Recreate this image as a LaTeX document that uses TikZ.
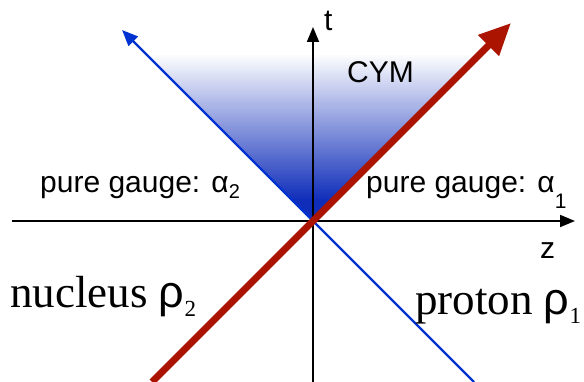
\documentclass[tikz,border=0pt]{standalone}
\usepackage{fontspec}
\setmainfont{Liberation Serif}
\setsansfont{Liberation Sans}
\usetikzlibrary{arrows.meta}
\definecolor{myred}{RGB}{170,20,0}
\definecolor{myblue}{RGB}{0,50,210}
\definecolor{shadeblue}{RGB}{15,45,185}
\newcommand{\lowsub}[3]{\raisebox{-#2pt}{\fontsize{#1}{#1}\selectfont #3}}
\begin{document}
\begin{tikzpicture}[x=1pt,y=-1pt,
  lab/.style={font=\sffamily\fontsize{30}{32}\selectfont, inner sep=0pt, anchor=base west},
  big/.style={font=\fontsize{45}{48}\selectfont, inner sep=0pt, anchor=base west},
  axis/.style={line width=1.8pt, -{Triangle[length=15pt,width=12pt]}},
  bluearrow/.style={draw=myblue, line width=2.3pt, -{Triangle[length=16pt,width=13pt]}},
  redarrow/.style={draw=myred, line width=7pt, -{Triangle[length=32pt,width=28pt]}}]
\useasboundingbox (0,0) rectangle (584,382);
\coordinate (O) at (313,221);
\coordinate (zs) at (12,221);
\coordinate (ze) at (575,221);
\coordinate (ts) at (313,382);
\coordinate (te) at (313,27);
\coordinate (bs) at (474,382);
\coordinate (be) at (122,30);
\coordinate (rs) at (152,382);
\coordinate (re) at (511,23);
% CYM light-cone gradient, built from overlapping horizontal bands
\foreach \k in {0,...,96} {
  \pgfmathsetmacro{\ha}{2*\k}
  \pgfmathsetmacro{\hb}{min(193,2*\k+2.6)}
  \pgfmathsetmacro{\p}{max(0,min(100,100*(0.86-\ha/193)/0.76))}
  \fill[shadeblue!\p] ({313-\ha},{221-\ha}) -- ({313+\ha},{221-\ha}) -- ({313+\hb},{221-\hb}) -- ({313-\hb},{221-\hb}) -- cycle;
}
\draw[axis] (zs) -- (ze);
\draw[axis] (ts) -- (te);
\draw[bluearrow] (bs) -- (be);
\draw[redarrow] (rs) -- (re);
\node[lab] (t) at (324,31) {t};
\node[lab] (z) at (540,259) {z};
\node[lab] (cym) at (347,83) {CYM};
\node[lab] (pg2) at (40,193) {pure gauge: α\lowsub{20}{6}{2}};
\node[lab] (pg1) at (366,193) {pure gauge: α\lowsub{21}{16}{1}};
\node[big] (nuc) at (10,308) {nucleus {\sffamily ρ}\lowsub{23}{9}{2}};
\node[big] (pro) at (415,315) {proton {\sffamily ρ}\lowsub{23}{9}{1}};
\end{tikzpicture}
\end{document}
